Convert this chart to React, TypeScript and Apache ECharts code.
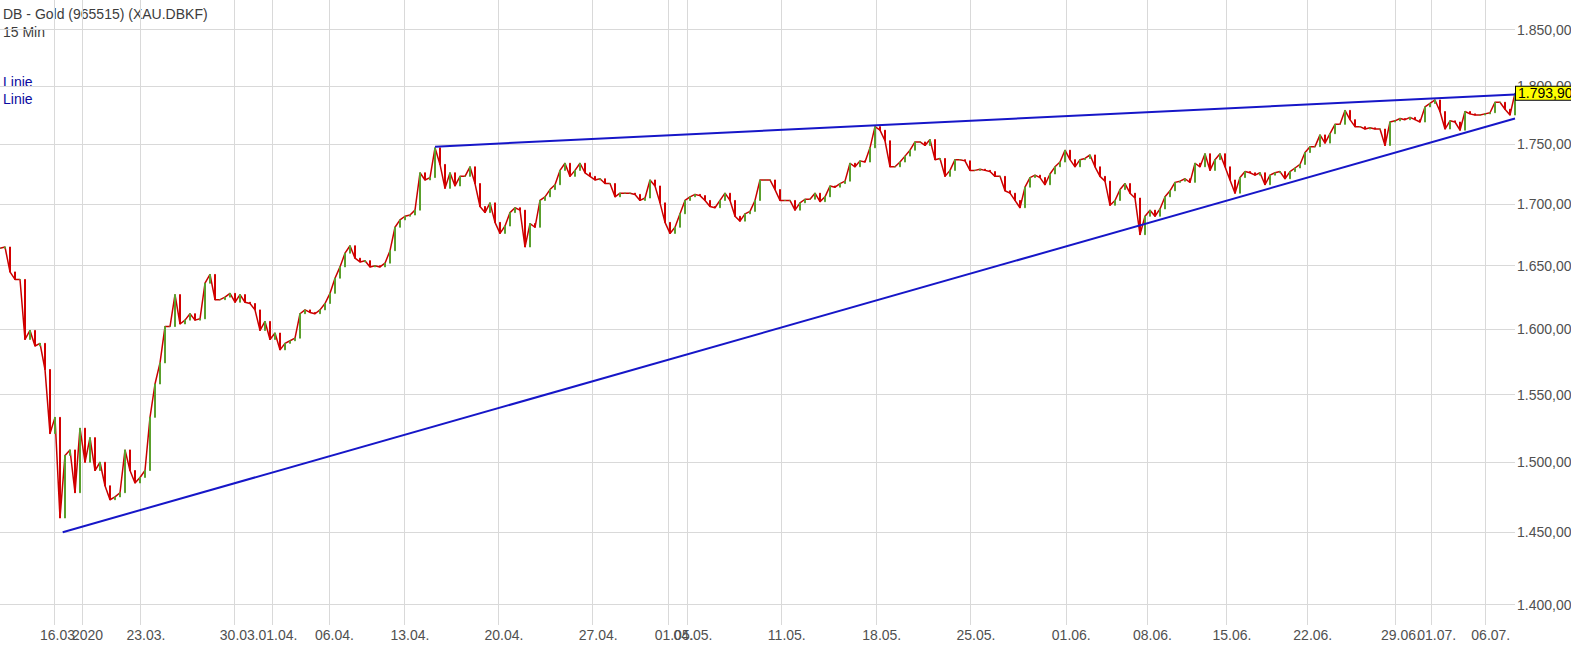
import React, { useEffect, useRef } from 'react';
import * as echarts from 'echarts';

// Closing prices, one per 15-min slot group (slot index = position on the trading-time axis)
const closes: number[] = [
  1664, 1665, 1645, 1639, 1639, 1592, 1599, 1587, 1589, 1569,
  1521, 1533, 1460, 1505, 1509, 1478, 1525, 1500, 1518, 1494,
  1500, 1483, 1473, 1475, 1478, 1509, 1494, 1485, 1489, 1494,
  1533, 1558, 1574, 1602, 1602, 1627, 1604, 1607, 1612, 1607,
  1608, 1636, 1643, 1623, 1623, 1625, 1628, 1621, 1627, 1621,
  1620, 1615, 1599, 1606, 1592, 1597, 1584, 1589, 1591, 1593,
  1612, 1615, 1613, 1612, 1615, 1620, 1628, 1640, 1649, 1660,
  1666, 1656, 1653, 1654, 1649, 1650, 1649, 1652, 1662, 1681,
  1687, 1690, 1691, 1695, 1726, 1720, 1722, 1747, 1733, 1713,
  1726, 1715, 1723, 1723, 1731, 1717, 1698, 1693, 1701, 1685,
  1676, 1682, 1693, 1697, 1695, 1665, 1684, 1681, 1703, 1706,
  1712, 1716, 1728, 1734, 1723, 1728, 1734, 1726, 1723, 1720,
  1721, 1717, 1717, 1706, 1709, 1709, 1709, 1708, 1703, 1705,
  1720, 1715, 1701, 1685, 1676, 1681, 1692, 1703, 1706, 1708,
  1707, 1703, 1698, 1697, 1703, 1709, 1703, 1690, 1686, 1692,
  1694, 1703, 1720, 1720, 1720, 1712, 1703, 1703, 1703, 1695,
  1701, 1704, 1704, 1709, 1702, 1706, 1715, 1714, 1717, 1719,
  1734, 1731, 1736, 1735, 1747, 1765, 1762, 1753, 1731, 1731,
  1735, 1740, 1745, 1752, 1752, 1749, 1754, 1737, 1738, 1723,
  1728, 1737, 1737, 1736, 1728, 1728, 1729, 1728, 1727, 1723,
  1723, 1711, 1709, 1703, 1697, 1714, 1722, 1724, 1722, 1716,
  1725, 1731, 1735, 1745, 1737, 1731, 1737, 1738, 1741, 1731,
  1723, 1719, 1699, 1703, 1712, 1717, 1709, 1705, 1675, 1690,
  1695, 1690, 1696, 1706, 1711, 1718, 1719, 1721, 1718, 1734,
  1731, 1742, 1728, 1737, 1742, 1731, 1720, 1709, 1722, 1727,
  1726, 1724, 1726, 1716, 1724, 1726, 1727, 1721, 1727, 1730,
  1733, 1743, 1748, 1748, 1758, 1751, 1759, 1767, 1767, 1779,
  1771, 1765, 1765, 1763, 1764, 1763, 1763, 1749, 1769, 1770,
  1772, 1771, 1773, 1771, 1769, 1782, 1785, 1788, 1778, 1763,
  1770, 1769, 1762, 1778, 1776, 1775, 1775, 1776, 1777, 1786,
  1786, 1780, 1775, 1793.9,
];

// Date ticks on the trading-time axis (slot index where each date begins)
const tickSlots: number[] = [
  10.8, 16.4, 28.1, 46.76, 54.5, 65.8, 80.9, 99.7, 118.54, 133.72, 137.5,
  156.26, 175.26, 194.1, 213.16, 229.4, 245.3, 261.46, 279, 286.24, 297.06,
];
const tickLabels: string[] = [
  '16.03.', '2020', '23.03.', '30.03.', '01.04.', '06.04.', '13.04.', '20.04.', '27.04.', '01.05.', '04.05.',
  '11.05.', '18.05.', '25.05.', '01.06.', '08.06.', '15.06.', '22.06.', '29.06.', '01.07.', '06.07.',
];
const yearLabel = '2020';

const priceTicks: number[] = [1400, 1450, 1500, 1550, 1600, 1650, 1700, 1750, 1800, 1850];

// Trend lines: [slot, price]
const supportLine: number[][] = [[12.54, 1450.0], [303, 1772.0]];
const resistanceLine: number[][] = [[87, 1748.0], [303, 1792.8]];
const lastPrice = 1793.9;

const titleLines: string[] = ['DB - Gold (965515) (XAU.DBKF)', '15 Min'];
const legendLines: string[] = ['Linie', 'Linie'];

const FONT = 'Arial, "Liberation Sans", Helvetica, sans-serif';
const UP = '#5aa02c';
const DOWN = '#d40000';
const GRID = '#d9d9d9';
const LINE_BLUE = '#1616c8';

function fmtDE(v: number): string {
  const [intPart, dec] = v.toFixed(2).split('.');
  return intPart.replace(/\B(?=(\d{3})+(?!\d))/g, '.') + ',' + dec;
}

export default function App() {
  const ref = useRef<HTMLDivElement>(null);

  useEffect(() => {
    document.body.style.margin = '0';
    if (!ref.current) return;
    const chart = echarts.init(ref.current, undefined, { renderer: 'svg' });

    const candles = closes.map((c, i) => {
      const o = i === 0 ? c : closes[i - 1];
      return [i, o, c, Math.min(o, c), Math.max(o, c)];
    });
    const closeLine = closes.map((c, i) => [i, c]);

    const dateSlots = tickSlots.filter((_, k) => tickLabels[k] !== yearLabel);
    const dateLabels = tickLabels.filter((l) => l !== yearLabel);
    const yearSlots = tickSlots.filter((_, k) => tickLabels[k] === yearLabel);

    const labelFrom = (slots: number[], labels: string[]) => (v: number) => {
      let best = 0;
      let bd = Infinity;
      slots.forEach((t, k) => {
        const d = Math.abs(t - v);
        if (d < bd) { bd = d; best = k; }
      });
      return labels[best];
    };

    const xLabelStyle = {
      color: '#505050',
      fontSize: 14,
      fontFamily: FONT,
      margin: 3,
      padding: [0, 0, 0, 11],
      showMinLabel: true,
      showMaxLabel: true,
      hideOverlap: false,
    };

    chart.setOption({
      animation: false,
      backgroundColor: '#ffffff',
      grid: { left: 0, right: 56, top: 0, bottom: 25, containLabel: false, outerBoundsMode: 'none' },
      xAxis: [
        {
          type: 'value',
          min: 0,
          max: 303,
          position: 'bottom',
          axisLine: { show: false },
          axisTick: { show: false, customValues: dateSlots },
          axisLabel: { ...xLabelStyle, customValues: dateSlots, formatter: labelFrom(dateSlots, dateLabels) },
          splitLine: { show: true, lineStyle: { color: GRID, width: 1 } },
        },
        {
          type: 'value',
          min: 0,
          max: 303,
          position: 'bottom',
          offset: 0,
          axisLine: { show: false },
          axisTick: { show: false, customValues: yearSlots },
          axisLabel: { ...xLabelStyle, customValues: yearSlots, formatter: () => yearLabel },
          splitLine: { show: true, lineStyle: { color: GRID, width: 1 } },
        },
      ],
      yAxis: {
        type: 'log',
        logBase: 10,
        min: 1386.2,
        max: 1876.8,
        position: 'right',
        axisLine: { show: false },
        axisTick: { show: false, customValues: priceTicks },
        axisLabel: {
          customValues: priceTicks,
          formatter: (v: number) => fmtDE(v),
          color: '#505050',
          fontSize: 14,
          fontFamily: FONT,
          margin: 2,
          showMinLabel: true,
          showMaxLabel: true,
        },
        splitLine: { show: true, lineStyle: { color: GRID, width: 1 } },
      },
      graphic: [
        ...titleLines.map((t, k) => ({
          type: 'text',
          x: 3,
          y: k === 0 ? 14 : 31.5,
          style: { text: t, fill: '#3c3c3c', font: `14px ${FONT}`, verticalAlign: 'middle' },
        })),
        ...legendLines.map((t, k) => ({
          type: 'text',
          x: 3,
          y: k === 0 ? 81.5 : 99,
          style: { text: t, fill: '#0a0aa0', font: `14px ${FONT}`, verticalAlign: 'middle' },
        })),
      ],
      series: [
        {
          type: 'line',
          data: closeLine,
          symbol: 'none',
          silent: true,
          z: 1,
          lineStyle: { color: '#c80000', width: 1.5 },
        },
        {
          type: 'candlestick',
          data: candles,
          barWidth: 1.8,
          silent: true,
          z: 2,
          itemStyle: { color: UP, color0: DOWN, borderColor: UP, borderColor0: DOWN, borderWidth: 1 },
        },
        {
          type: 'line',
          data: [],
          clip: false,
          silent: true,
          z: 3,
          markLine: {
            silent: true,
            symbol: ['none', 'none'],
            animation: false,
            label: { show: false },
            lineStyle: { color: LINE_BLUE, width: 2, type: 'solid' },
            data: [
              [{ coord: supportLine[0] }, { coord: supportLine[1] }],
              [{ coord: resistanceLine[0] }, { coord: resistanceLine[1] }],
              {
                yAxis: lastPrice,
                lineStyle: { color: 'rgba(0,0,0,0)', width: 0 },
                label: {
                  show: true,
                  position: 'end',
                  distance: 1,
                  formatter: fmtDE(lastPrice),
                  color: '#000',
                  fontSize: 14,
                  fontFamily: FONT,
                  lineHeight: 13,
                  backgroundColor: '#ffff00',
                  borderColor: '#000',
                  borderWidth: 1,
                  padding: [0, 2, 0, 2],
                },
              },
            ],
          },
        },
      ],
    });

    return () => chart.dispose();
  }, []);

  return <div ref={ref} style={{ position: 'fixed', left: 0, top: 0, width: 1571, height: 650 }} />;
}
